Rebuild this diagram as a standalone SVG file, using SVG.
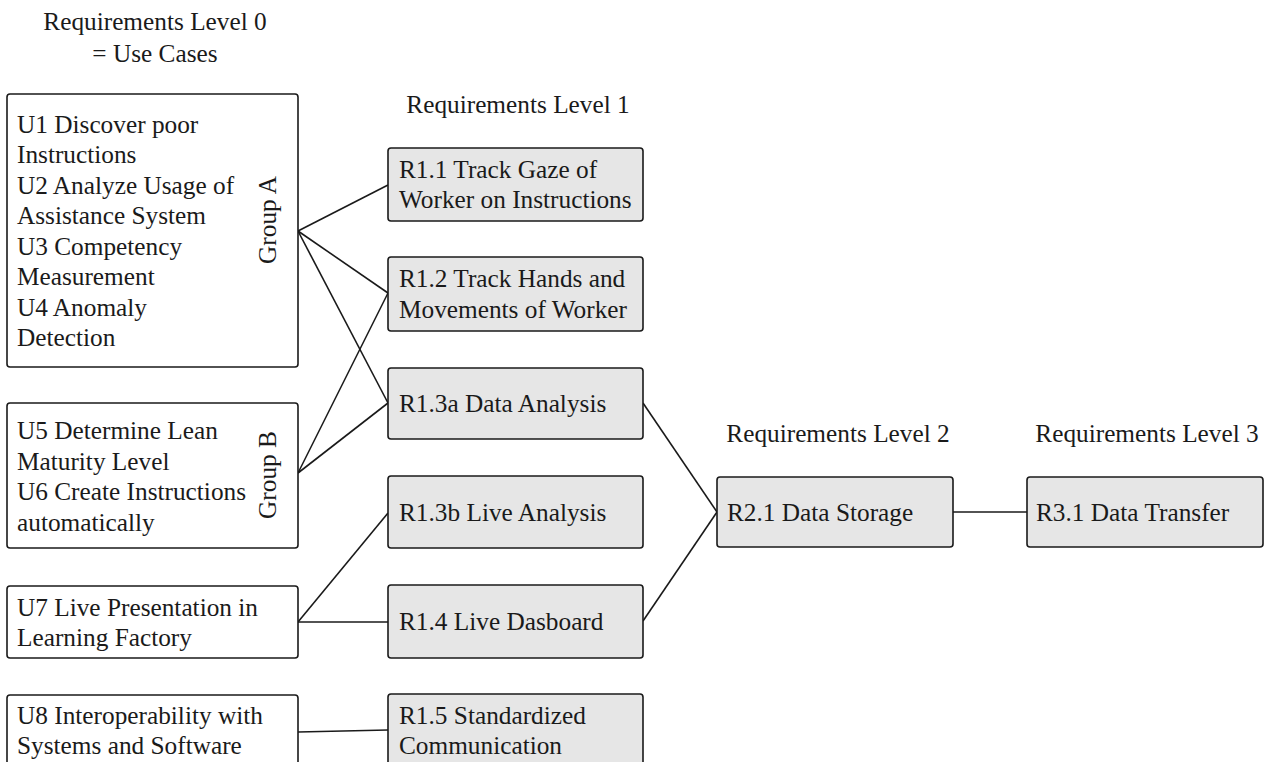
<svg xmlns="http://www.w3.org/2000/svg" width="1269" height="762" viewBox="0 0 1269 762">
<style>
text{font-family:"Liberation Serif","Times New Roman",serif;font-size:25.3px;fill:#1a1a1a}
.u{fill:#ffffff;stroke:#1a1a1a;stroke-width:1.6}
.r{fill:#e6e6e6;stroke:#1a1a1a;stroke-width:1.6}
.c{stroke:#1a1a1a;stroke-width:1.6;fill:none}
.m{text-anchor:middle}
</style>
<rect width="1269" height="762" fill="#ffffff"/>
<g id="headers">
<text class="m" x="155" y="30">Requirements Level 0</text>
<text class="m" x="155" y="62">= Use Cases</text>
<text class="m" x="518" y="113">Requirements Level 1</text>
<text class="m" x="838" y="442">Requirements Level 2</text>
<text class="m" x="1147" y="442">Requirements Level 3</text>
</g>
<g id="connectors">
<line class="c" x1="298" y1="231" x2="388" y2="185"/>
<line class="c" x1="298" y1="231" x2="388" y2="293"/>
<line class="c" x1="298" y1="231" x2="388" y2="403"/>
<line class="c" x1="298" y1="473" x2="388" y2="293"/>
<line class="c" x1="298" y1="473" x2="388" y2="403"/>
<line class="c" x1="298" y1="622" x2="388" y2="513"/>
<line class="c" x1="298" y1="622" x2="388" y2="622"/>
<line class="c" x1="298" y1="732" x2="388" y2="730"/>
<line class="c" x1="643" y1="403" x2="717" y2="512"/>
<line class="c" x1="643" y1="621" x2="717" y2="512"/>
<line class="c" x1="953" y1="512" x2="1027" y2="512"/>
</g>
<g id="U1-U4">
<rect class="u" x="7" y="94" width="291" height="273" rx="3"/>
<text x="17" y="132.5">U1 Discover poor</text>
<text x="17" y="163">Instructions</text>
<text x="17" y="193.5">U2 Analyze Usage of</text>
<text x="17" y="224">Assistance System</text>
<text x="17" y="254.5">U3 Competency</text>
<text x="17" y="285">Measurement</text>
<text x="17" y="315.5">U4 Anomaly</text>
<text x="17" y="346">Detection</text>
<text class="m" transform="translate(276,220) rotate(-90)">Group A</text>
</g>
<g id="U5-U6">
<rect class="u" x="7" y="403" width="291" height="145" rx="3"/>
<text x="17" y="439">U5 Determine Lean</text>
<text x="17" y="469.5">Maturity Level</text>
<text x="17" y="500">U6 Create Instructions</text>
<text x="17" y="530.5">automatically</text>
<text class="m" transform="translate(276,475) rotate(-90)">Group B</text>
</g>
<g id="U7">
<rect class="u" x="7" y="586" width="291" height="72" rx="3"/>
<text x="17" y="615.5">U7 Live Presentation in</text>
<text x="17" y="646">Learning Factory</text>
</g>
<g id="U8">
<rect class="u" x="7" y="695" width="291" height="73" rx="3"/>
<text x="17" y="723.5">U8 Interoperability with</text>
<text x="17" y="754">Systems and Software</text>
</g>
<g id="R1.1">
<rect class="r" x="388" y="148" width="255" height="73" rx="3"/>
<text x="399" y="177.5">R1.1 Track Gaze of</text>
<text x="399" y="208">Worker on Instructions</text>
</g>
<g id="R1.2">
<rect class="r" x="388" y="257" width="255" height="74" rx="3"/>
<text x="399" y="287">R1.2 Track Hands and</text>
<text x="399" y="317.5">Movements of Worker</text>
</g>
<g id="R1.3a">
<rect class="r" x="388" y="368" width="255" height="71" rx="3"/>
<text x="399" y="412">R1.3a Data Analysis</text>
</g>
<g id="R1.3b">
<rect class="r" x="388" y="476" width="255" height="72" rx="3"/>
<text x="399" y="520.5">R1.3b Live Analysis</text>
</g>
<g id="R1.4">
<rect class="r" x="388" y="585" width="255" height="73" rx="3"/>
<text x="399" y="630">R1.4 Live Dasboard</text>
</g>
<g id="R1.5">
<rect class="r" x="388" y="694" width="255" height="73" rx="3"/>
<text x="399" y="723.5">R1.5 Standardized</text>
<text x="399" y="754">Communication</text>
</g>
<g id="R2.1">
<rect class="r" x="717" y="477" width="236" height="70" rx="3"/>
<text x="727" y="520.5">R2.1 Data Storage</text>
</g>
<g id="R3.1">
<rect class="r" x="1027" y="477" width="236" height="70" rx="3"/>
<text x="1036" y="520.5">R3.1 Data Transfer</text>
</g>
</svg>
